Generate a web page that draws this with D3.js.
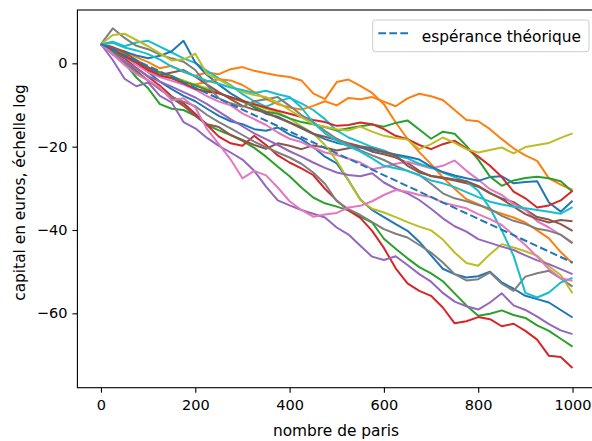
<!DOCTYPE html>
<html>
<head>
<meta charset="utf-8">
<script src="https://cdn.jsdelivr.net/npm/d3@7"></script>
<style>
  body { margin: 0; background: #fff; }
  svg { display: block; font-family: "DejaVu Sans", sans-serif; }
</style>
</head>
<body>
<div id="chart"></div>
<script>
var steps = [0, 25, 50, 75, 100, 125, 150, 175, 200, 225, 250, 275, 300, 325, 350, 375, 400, 425, 450, 475,
  500, 525, 550, 575, 600, 625, 650, 675, 700, 725, 750, 775, 800, 825, 850, 875, 900, 925, 950, 975, 1000];

// log capital for the 20 simulated players (plot order = tab10 colour cycle)
var blue1 = [4.6, 3.1, 1.4, 0.2, -2.1, -4.4, -6.2, -7.8, -9.1, -10.9, -12.6, -13.9, -14.6, -15.8, -16.2, -15.4, -17.1, -18.2, -20.1, -22.4, -24.0, -28.1, -32.7, -35.2, -36.9, -38.6, -40.2, -42.8, -46.1, -49.3, -50.6, -51.4, -51.1, -50.0, -52.6, -54.1, -55.8, -56.6, -57.4, -59.2, -61.0];
var orange1 = [4.6, 3.8, 2.9, 1.5, 0.3, -1.2, -0.6, -2.1, -3.0, -2.2, -2.6, -1.4, -0.9, -1.8, -2.4, -2.9, -3.3, -4.1, -7.2, -8.6, -4.5, -3.9, -5.4, -7.1, -9.8, -14.2, -18.1, -21.3, -24.2, -27.4, -30.1, -32.6, -33.8, -35.2, -36.1, -37.0, -38.2, -40.1, -42.0, -45.3, -48.0];
var green1 = [4.6, 2.2, 0.1, -3.4, -6.0, -9.8, -10.9, -11.2, -12.6, -14.8, -16.1, -17.2, -18.6, -20.3, -22.4, -24.8, -27.1, -29.8, -32.2, -33.6, -34.4, -35.3, -36.8, -38.2, -42.1, -44.5, -46.8, -48.9, -50.4, -52.3, -55.2, -58.1, -60.6, -60.1, -59.3, -60.4, -61.1, -62.9, -64.2, -66.1, -68.0];
var red1 = [4.6, 2.9, 1.2, -1.1, -3.2, -5.4, -7.9, -9.6, -12.1, -14.8, -17.6, -19.2, -19.8, -17.4, -19.6, -22.1, -23.8, -25.2, -26.8, -30.1, -32.9, -35.3, -37.1, -40.2, -44.3, -49.2, -52.8, -54.6, -55.8, -58.6, -62.4, -61.9, -60.9, -61.4, -63.1, -62.5, -64.2, -66.3, -70.2, -70.5, -73.1];
var purple1 = [4.6, 0.8, -3.7, -5.5, -4.6, -7.8, -9.4, -14.1, -15.6, -17.9, -19.8, -21.4, -23.1, -25.8, -29.6, -32.9, -34.1, -35.2, -36.1, -37.0, -39.4, -41.1, -43.8, -46.4, -47.2, -46.3, -48.4, -50.6, -52.4, -55.1, -57.2, -58.3, -59.1, -57.4, -55.2, -58.1, -59.2, -60.8, -62.6, -64.1, -65.0];
var brown1 = [4.6, 2.6, 0.4, -1.8, -4.2, -6.1, -8.3, -10.2, -12.6, -14.6, -15.3, -17.2, -18.4, -19.6, -20.5, -19.2, -19.8, -20.6, -19.7, -20.2, -20.9, -20.4, -20.1, -21.2, -21.8, -22.6, -23.9, -25.8, -27.1, -27.6, -28.1, -28.8, -29.6, -31.2, -32.4, -33.3, -35.1, -36.9, -37.5, -38.6, -40.2];
var pink1 = [4.6, 3.2, 1.6, -0.4, -2.1, -3.3, -4.2, -5.1, -6.3, -7.9, -9.2, -10.1, -12.0, -13.4, -14.8, -16.6, -18.1, -18.9, -20.2, -21.4, -22.0, -22.9, -23.8, -25.4, -24.9, -24.1, -23.6, -24.4, -25.2, -24.6, -23.3, -25.8, -27.9, -30.2, -31.6, -33.8, -35.2, -37.9, -39.4, -41.2, -43.0];
var gray1 = [4.6, 2.1, 0.2, -2.2, -4.1, -6.3, -8.1, -9.2, -10.3, -12.4, -14.1, -15.6, -17.2, -18.8, -20.1, -21.4, -22.6, -24.1, -26.2, -28.9, -33.1, -35.0, -36.4, -38.1, -39.8, -40.9, -41.8, -43.6, -45.4, -47.8, -50.6, -52.1, -51.8, -50.2, -52.9, -54.6, -51.2, -50.4, -49.8, -51.6, -53.6];
var olive1 = [4.6, 3.4, 2.1, 0.6, -1.1, -2.3, -3.2, -4.1, -5.2, -6.0, -7.1, -8.3, -9.1, -9.8, -10.9, -11.8, -13.2, -15.1, -16.8, -19.6, -23.4, -28.1, -32.8, -34.9, -35.8, -36.9, -38.1, -39.2, -40.1, -42.3, -45.4, -47.9, -48.6, -45.8, -43.4, -44.2, -45.1, -46.2, -48.7, -50.8, -55.2];
var cyan1 = [4.6, 5.2, 4.1, 5.0, 5.4, 4.0, 2.6, 1.2, 0.1, -1.8, -3.6, -5.2, -7.4, -9.1, -10.4, -9.2, -8.3, -9.6, -11.2, -13.4, -16.1, -17.8, -18.9, -20.1, -20.9, -22.2, -22.8, -24.1, -25.0, -26.2, -27.3, -28.4, -30.6, -34.8, -40.1, -46.2, -55.1, -56.2, -55.0, -52.6, -51.5];
var blue2 = [4.6, 3.6, 2.8, 1.9, 1.2, 1.8, 2.9, 5.4, 0.2, -2.8, -5.1, -7.2, -8.9, -10.6, -12.1, -12.8, -14.2, -15.4, -16.9, -18.2, -19.1, -19.6, -20.2, -20.8, -21.3, -21.9, -22.4, -23.1, -24.8, -26.1, -26.9, -27.6, -28.2, -27.3, -27.1, -28.8, -28.5, -28.3, -33.4, -35.6, -33.0];
var orange2 = [4.6, 3.1, 2.0, 0.4, -1.0, -2.2, -3.4, -4.6, -5.1, -4.4, -3.8, -4.1, -5.2, -6.9, -8.6, -9.8, -10.6, -11.1, -10.2, -9.1, -10.1, -8.3, -8.6, -8.1, -9.2, -10.3, -8.4, -7.3, -7.9, -8.8, -11.2, -13.6, -13.9, -15.8, -18.2, -20.4, -22.1, -23.4, -27.6, -29.1, -30.4];
var green2 = [4.6, 2.8, 1.6, 0.2, -1.2, -2.1, -3.0, -4.4, -5.3, -6.4, -7.2, -8.1, -9.2, -10.4, -11.6, -12.1, -13.2, -14.1, -14.6, -15.3, -16.1, -15.6, -15.1, -14.7, -15.2, -14.3, -13.7, -15.9, -18.1, -16.4, -16.9, -19.8, -23.1, -27.2, -29.4, -28.1, -27.5, -27.2, -27.6, -28.3, -30.8];
var red2 = [4.6, 3.3, 1.8, 0.3, -1.6, -2.9, -3.6, -4.8, -6.1, -6.8, -7.2, -8.1, -9.0, -9.8, -10.6, -11.4, -12.1, -12.9, -13.6, -14.1, -15.0, -14.8, -14.2, -14.6, -15.8, -17.4, -18.2, -19.6, -20.6, -19.4, -18.6, -20.4, -22.4, -24.6, -27.3, -30.8, -32.4, -34.6, -34.1, -32.9, -30.6];
var purple2 = [4.6, 2.4, 0.6, -1.2, -3.1, -4.4, -5.6, -6.9, -8.2, -9.8, -11.6, -13.4, -15.1, -16.8, -18.2, -19.6, -21.1, -22.4, -23.8, -25.1, -26.2, -26.8, -27.1, -26.4, -28.6, -30.1, -31.2, -32.8, -34.9, -37.2, -39.1, -40.4, -42.2, -43.1, -44.0, -44.8, -46.1, -47.3, -48.2, -49.4, -50.6];
var brown2 = [4.6, 3.9, 2.6, 0.8, -0.9, -2.8, -2.2, -1.6, -3.2, -5.1, -6.9, -8.6, -10.2, -11.1, -11.8, -13.1, -14.2, -15.6, -16.9, -17.6, -18.4, -19.2, -19.9, -20.4, -21.3, -22.1, -24.6, -26.2, -27.0, -27.4, -27.9, -28.3, -29.4, -31.1, -32.6, -34.4, -36.2, -37.4, -38.2, -37.6, -37.9];
var pink2 = [4.6, 2.2, -0.4, -2.6, -4.1, -5.8, -8.9, -8.4, -10.6, -15.8, -19.4, -23.1, -27.6, -25.8, -26.9, -29.8, -33.1, -35.2, -36.8, -36.3, -35.9, -34.6, -34.2, -33.1, -31.6, -30.4, -30.8, -31.6, -32.1, -33.4, -34.1, -34.8, -36.2, -37.4, -38.8, -41.2, -43.6, -46.4, -49.4, -51.6, -52.2];
var gray2 = [4.6, 8.4, 6.1, 4.2, 3.4, 2.1, 1.2, 0.4, -1.6, -5.2, -8.4, -9.6, -10.4, -9.1, -8.6, -8.1, -10.2, -12.4, -14.1, -16.2, -18.1, -19.4, -20.9, -22.1, -23.2, -24.6, -25.8, -26.8, -28.9, -31.2, -32.4, -33.1, -34.0, -34.9, -36.6, -37.8, -38.6, -39.7, -40.2, -41.1, -43.2];
var olive2 = [4.6, 6.8, 7.1, 5.6, 4.1, 2.4, 0.7, 0.9, 2.3, -2.6, -3.9, -5.4, -6.9, -7.6, -8.1, -9.4, -11.2, -12.9, -14.6, -15.2, -15.8, -16.1, -15.2, -16.4, -17.4, -17.9, -18.3, -20.6, -19.4, -17.8, -19.1, -20.6, -21.4, -20.8, -20.2, -21.6, -20.1, -19.6, -19.1, -17.9, -16.8];
var cyan2 = [4.6, 4.9, 3.8, 3.1, 2.2, 0.9, -0.8, -1.9, -3.1, -4.2, -4.9, -5.8, -6.4, -7.1, -6.6, -7.4, -8.1, -10.6, -14.2, -16.8, -18.6, -19.9, -21.2, -22.8, -24.6, -25.2, -25.8, -26.9, -28.1, -28.8, -29.7, -30.9, -32.1, -33.2, -33.9, -34.4, -34.8, -35.2, -35.6, -36.1, -34.5];

var walks = [blue1, orange1, green1, red1, purple1, brown1, pink1, gray1, olive1, cyan1,
  blue2, orange2, green2, red2, purple2, brown2, pink2, gray2, olive2, cyan2];

// theoretical expectation (straight line)
var expSteps = [0, 1000];
var expValues = [4.6, -47.8];

var xTicks = [0, 200, 400, 600, 800, 1000];
var yTicks = [0, -20, -40, -60];
var legendLabel = "espérance théorique";
var xTitle = "nombre de paris";
var yTitle = "capital en euros, échelle log";

var colors = ["#1f77b4", "#ff7f0e", "#2ca02c", "#d62728", "#9467bd",
  "#8c564b", "#e377c2", "#7f7f7f", "#bcbd22", "#17becf"];

var width = 592, height = 441;
var plot = {left: 77.4, right: 596.1, top: 10, bottom: 387.7};

var svg = d3.select("#chart").append("svg")
  .attr("width", width)
  .attr("height", height);

var x = d3.scaleLinear().domain([-50, 1050]).range([plot.left, plot.right]);
var y = d3.scaleLinear().domain([-77.85, 12.8]).range([plot.bottom, plot.top]);

var line = d3.line()
  .x(function (d) { return x(d[0]); })
  .y(function (d) { return y(d[1]); });

var g = svg.append("g");

walks.forEach(function (w, i) {
  g.append("path")
    .datum(steps.map(function (s, k) { return [s, w[k]]; }))
    .attr("fill", "none")
    .attr("stroke", colors[i % 10])
    .attr("stroke-width", 2)
    .attr("stroke-linejoin", "round")
    .attr("d", line);
});

// dashed expectation drawn last, on top
g.append("path")
  .datum(expSteps.map(function (s, k) { return [s, expValues[k]]; }))
  .attr("fill", "none")
  .attr("stroke", colors[0])
  .attr("stroke-width", 2)
  .attr("stroke-dasharray", "7.7,3.3")
  .attr("d", line);

// axes
var xAxis = svg.append("g")
  .attr("transform", "translate(0," + plot.bottom + ")")
  .call(d3.axisBottom(x).tickValues(xTicks).tickSize(5).tickPadding(7)
    .tickFormat(d3.format("d")));
var yAxis = svg.append("g")
  .attr("transform", "translate(" + plot.left + ",0)")
  .call(d3.axisLeft(y).tickValues(yTicks).tickSize(5).tickPadding(5)
    .tickFormat(function (d) { return d < 0 ? "\u2212" + Math.abs(d) : d; }));

[xAxis, yAxis].forEach(function (a) {
  a.select(".domain").remove();
  a.selectAll("line").attr("stroke", "#000").attr("stroke-width", 1.1);
  a.selectAll("text")
    .style("font-family", "DejaVu Sans")
    .style("font-size", "14.5px")
    .attr("fill", "#000");
});

// spines (right one sits just outside the window)
svg.append("rect")
  .attr("x", plot.left)
  .attr("y", plot.top)
  .attr("width", plot.right - plot.left)
  .attr("height", plot.bottom - plot.top)
  .attr("fill", "none")
  .attr("stroke", "#000")
  .attr("stroke-width", 1.1);

svg.append("text")
  .attr("x", 336)
  .attr("y", 436)
  .style("text-anchor", "middle")
  .style("font-size", "15.4px")
  .attr("fill", "#000")
  .text(xTitle);

svg.append("text")
  .attr("transform", "translate(25,192.5) rotate(-90)")
  .style("text-anchor", "middle")
  .style("font-size", "15.4px")
  .attr("fill", "#000")
  .text(yTitle);

// legend
var leg = svg.append("g");
leg.append("rect")
  .attr("x", 372.7).attr("y", 20)
  .attr("width", 216.3).attr("height", 31.7)
  .attr("rx", 2.8)
  .attr("fill", "#fff").attr("fill-opacity", 0.8)
  .attr("stroke", "#cccccc").attr("stroke-width", 1);
leg.append("line")
  .attr("x1", 378.3).attr("x2", 409.3)
  .attr("y1", 33.3).attr("y2", 33.3)
  .attr("stroke", colors[0])
  .attr("stroke-width", 2)
  .attr("stroke-dasharray", "7.7,3.3");
leg.append("text")
  .attr("x", 421.7).attr("y", 41.5)
  .style("font-size", "15.4px")
  .attr("fill", "#000")
  .text(legendLabel);
</script>
</body>
</html>
